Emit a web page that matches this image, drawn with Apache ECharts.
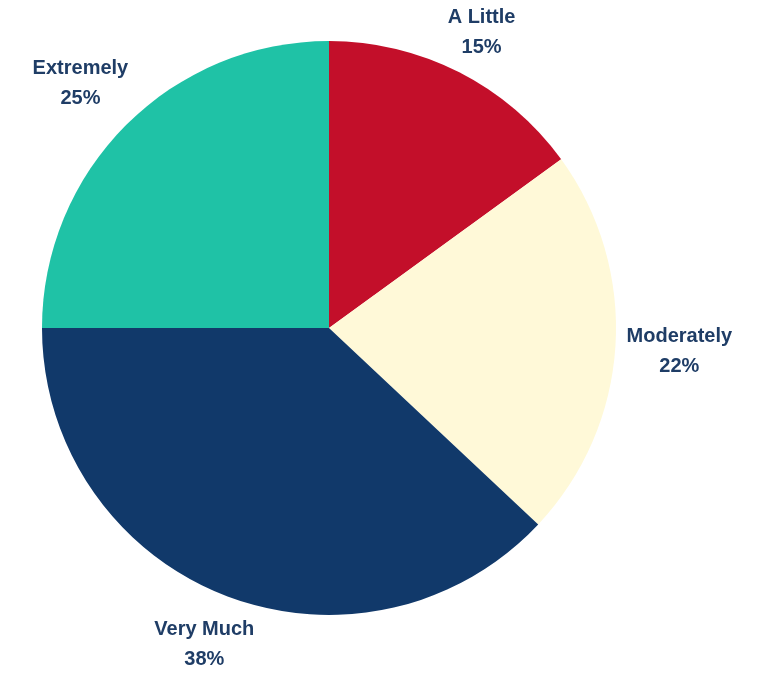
<!DOCTYPE html>
<html>
<head>
<meta charset="utf-8">
<script src="https://cdn.jsdelivr.net/npm/echarts@6/dist/echarts.min.js"></script>
<style>
  html, body { margin: 0; padding: 0; background: #fff; }
  #main { width: 768px; height: 675px; }
</style>
</head>
<body>
<div id="main"></div>
<script>
var names = ['A Little', 'Moderately', 'Very Much', 'Extremely'];
var values = [15, 22, 38, 25];
var colors = ['#c30f2a', '#fff9d8', '#11396a', '#1fc2a6'];

// nudges so the label boxes sit a little further out where they are wide
var labelOffsets = [[0, 4], [15, 2], [-1, 4], [-11, -7]];

var myChart = echarts.init(document.getElementById('main'));

var sliceData = names.map(function (n, i) {
    return { name: n, value: values[i], itemStyle: { color: colors[i] } };
});
var labelData = names.map(function (n, i) {
    return { name: n, value: values[i], label: { offset: labelOffsets[i] } };
});

myChart.setOption(option = {
    animation: false,
    series: [{
        type: 'pie',
        center: [329, 328],
        radius: 287,
        startAngle: 90,
        clockwise: true,
        silent: true,
        label: { show: false },
        labelLine: { show: false },
        data: sliceData
    }, {
        // invisible ring that only carries the labels
        type: 'pie',
        center: [329, 328],
        radius: [321, 345],
        startAngle: 90,
        clockwise: true,
        silent: true,
        itemStyle: { color: 'rgba(0,0,0,0)' },
        labelLine: { show: false },
        label: {
            show: true,
            position: 'inside',
            formatter: '{b}\n{d}%',
            fontFamily: 'Liberation Sans',
            fontWeight: 'bold',
            fontSize: 20,
            lineHeight: 30,
            color: '#1f3d66',
            align: 'center'
        },
        data: labelData
    }]
});
</script>
</body>
</html>
